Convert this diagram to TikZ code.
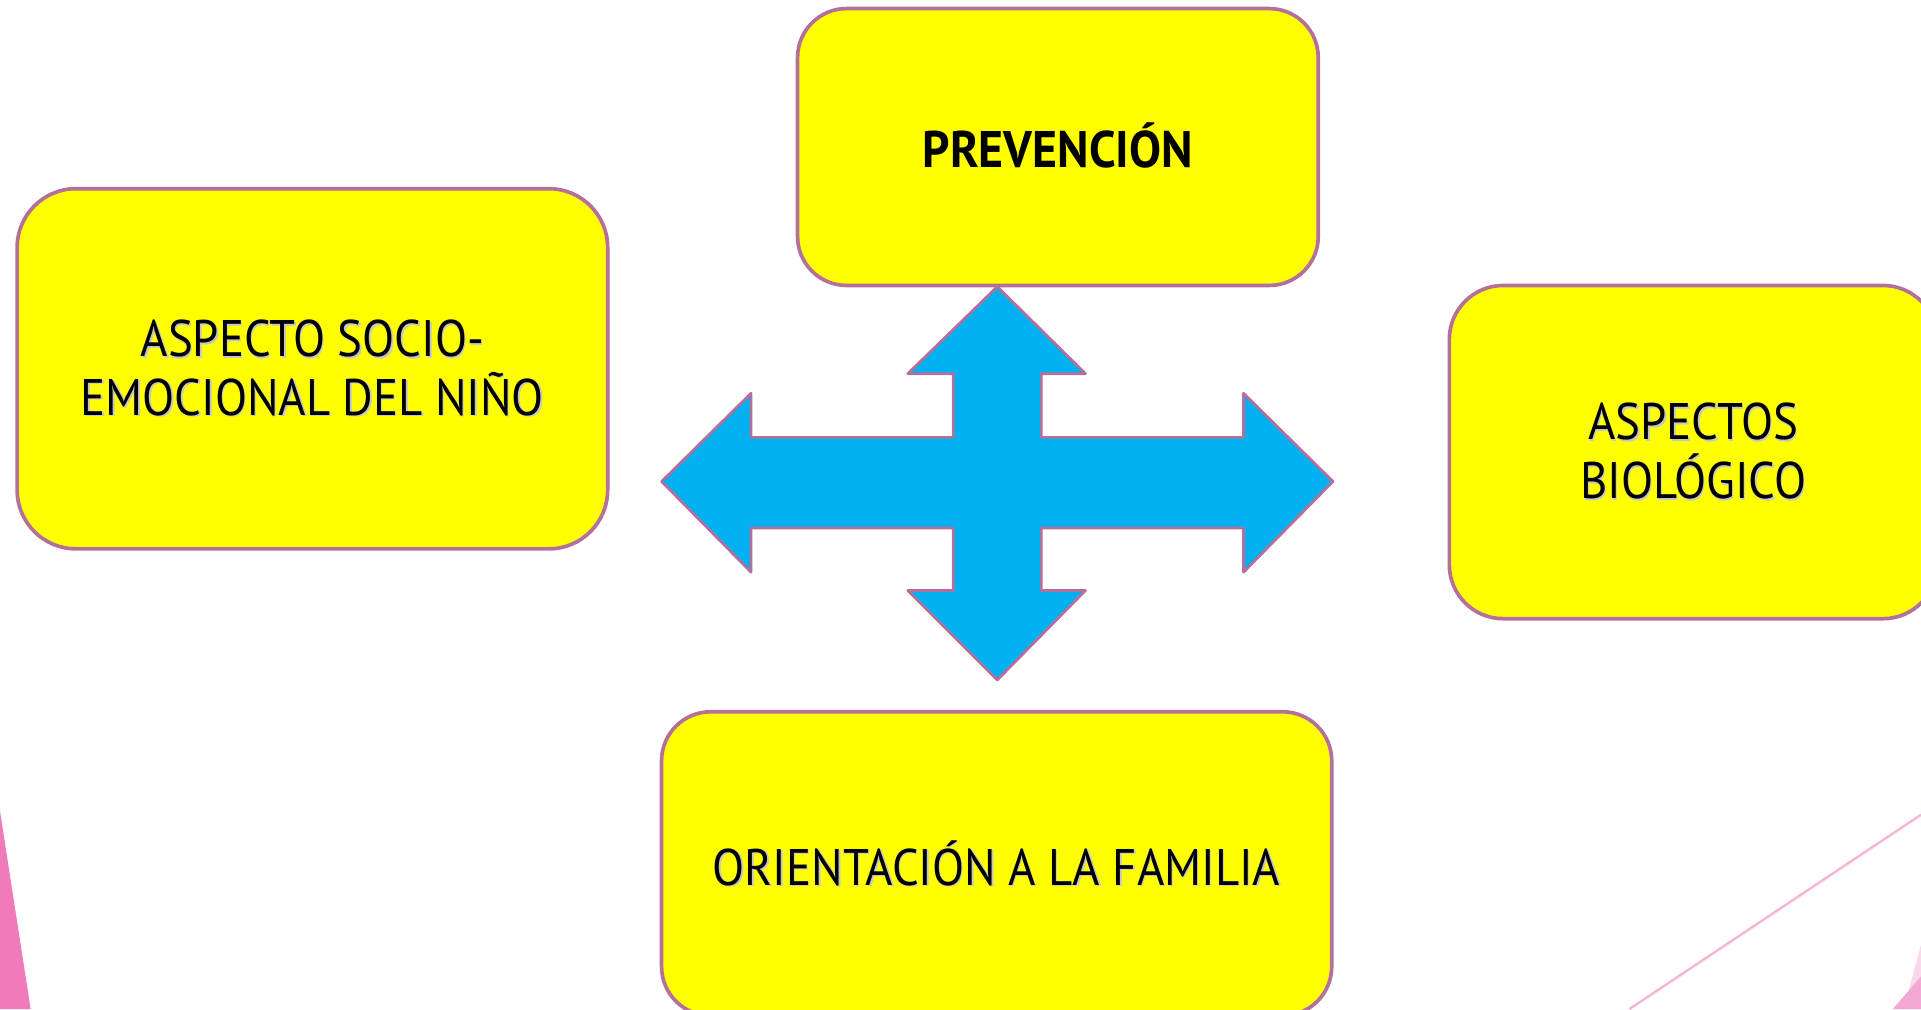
\documentclass[tikz,border=0pt]{standalone}
\usepackage{fontspec}
\setmainfont{PT Sans}[FakeStretch=0.91,BoldFeatures={FakeStretch=0.93}]
\definecolor{boxyellow}{HTML}{FFFF00}
\definecolor{boxborder}{HTML}{B4709A}
\definecolor{crossblue}{HTML}{00B0F0}
\definecolor{pinkdeep}{HTML}{F07BBB}
\definecolor{pinkline}{HTML}{F7B5D8}
\definecolor{pinkmid}{HTML}{F2A8D3}
\definecolor{pinklight}{HTML}{F8D8EA}
\newcommand\shtxt[1]{\leavevmode\rlap{\kern0.6pt\raisebox{-0.6pt}{\textcolor{black!22}{#1}}}#1}
\begin{document}
\begin{tikzpicture}[x=0.5pt,y=-0.5pt,
  yellowbox/.style={draw=boxborder,line width=1.5pt,fill=boxyellow,rounded corners=20pt,
    inner sep=0pt,align=center,font=\fontsize{21}{24}\selectfont,text=black},
  crossshape/.style={draw=boxborder,line width=1.1pt,fill=crossblue,line join=round}]
\useasboundingbox (0,0) rectangle (1568,823.6);
\fill[white] (0,0) rectangle (1568,823.6);
% decorative background shapes
\fill[pinkdeep] (0,662) -- (25,823.6) -- (0,823.6) -- cycle;
\draw[pinkline,line width=1pt] (1330,823.6) -- (1568,665);
\fill[pinklight] (1557,812) -- (1568,771) -- (1568,823.6) -- (1552,823.6) -- cycle;
\fill[pinkmid] (1545,823.6) -- (1568,797) -- (1568,823.6) -- cycle;
% boxes
\node[yellowbox,minimum width=212.5pt,minimum height=113pt,font=\fontsize{21}{24}\selectfont\bfseries] (prev) at (863.5,120) {\raisebox{1.5pt}{PREVENCIÓN}};
\node[yellowbox,minimum width=241pt,minimum height=147pt,rounded corners=24pt] (socio) at (255,301) {\shtxt{ASPECTO SOCIO-}\\\shtxt{EMOCIONAL DEL NIÑO}};
\node[yellowbox,minimum width=199pt,minimum height=136pt,rounded corners=22pt] (bio) at (1382,369) {\shtxt{ASPECTOS}\\\shtxt{BIOLÓGICO}};
\node[yellowbox,minimum width=273.5pt,minimum height=124pt] (fam) at (813.5,705) {\shtxt{ORIENTACIÓN A LA FAMILIA}};
% four-way arrow
\draw[crossshape] (814,234) -- (886,305) -- (850,305) -- (850,357) -- (1015,357) -- (1015,321)
  -- (1088,393) -- (1015,467) -- (1015,431) -- (850,431) -- (850,482) -- (886,482)
  -- (814,555) -- (741,482) -- (778,482) -- (778,431) -- (613,431) -- (613,467)
  -- (540,393) -- (613,321) -- (613,357) -- (778,357) -- (778,305) -- (741,305) -- cycle;
\end{tikzpicture}
\end{document}
